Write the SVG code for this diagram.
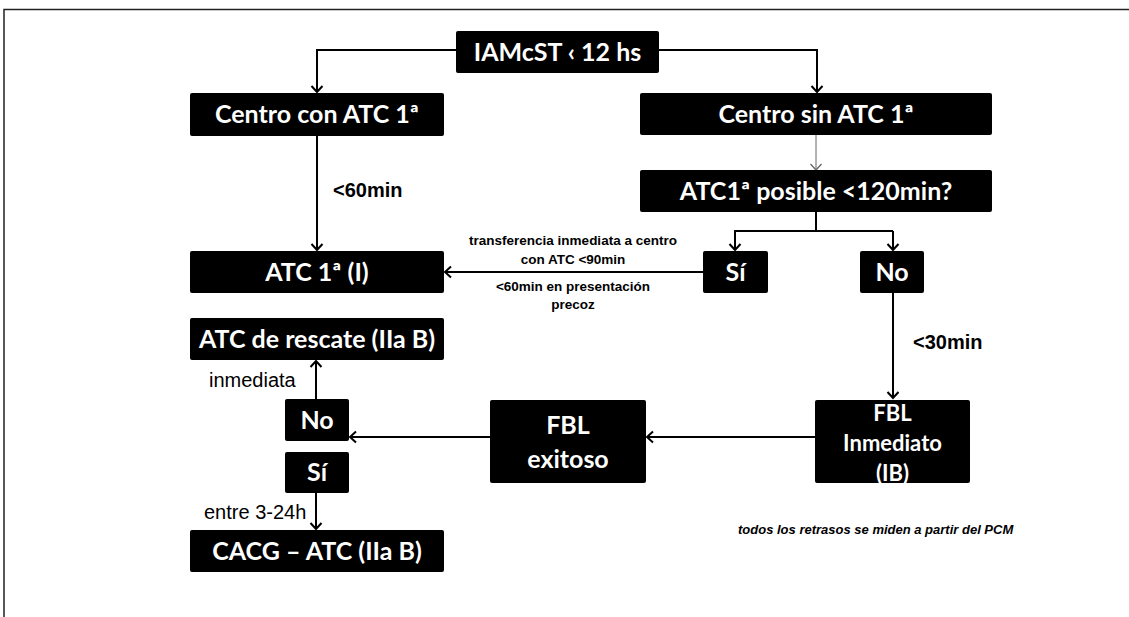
<svg xmlns="http://www.w3.org/2000/svg" width="1129" height="617" viewBox="0 0 1129 617">
<style>
.box{fill:#000;}
.t{fill:#fff;font-family:Lato,"Open Sans","Liberation Sans",sans-serif;font-weight:bold;font-size:25px;text-anchor:middle;}
.lbl{fill:#000;font-family:"Liberation Sans",Arial,sans-serif;font-weight:bold;font-size:20px;}
.reg{fill:#000;font-family:"Liberation Sans",Arial,sans-serif;font-size:20px;}
.sm{fill:#000;font-family:"Liberation Sans",Arial,sans-serif;font-weight:bold;font-size:13.5px;text-anchor:middle;}
.note{fill:#000;font-family:"Liberation Sans",Arial,sans-serif;font-weight:bold;font-style:italic;font-size:13px;}
.c{fill:none;stroke:#000;stroke-width:2;}
.cg{fill:none;stroke:#666;stroke-width:1;}
</style>
<defs>
<marker id="ah" markerUnits="userSpaceOnUse" markerWidth="14" markerHeight="14" viewBox="-8 -7 10 14" refX="0" refY="0" orient="auto">
<path d="M-6,-5.5 L0,0 L-6,5.5" fill="none" stroke="#000" stroke-width="2"/>
</marker>
<marker id="ahg" markerUnits="userSpaceOnUse" markerWidth="14" markerHeight="14" viewBox="-8 -7 10 14" refX="0" refY="0" orient="auto">
<path d="M-6,-5.5 L0,0 L-6,5.5" fill="none" stroke="#666" stroke-width="1.3"/>
</marker>
</defs>
<rect width="1129" height="617" fill="#fff"/>
<path d="M4,617 L4,9.5 L1129,9.5" fill="none" stroke="#222" stroke-width="1.5"/>

<g id="connectors">
<path class="c" d="M456,50 L317,50 L317,92" marker-end="url(#ah)"/>
<path class="c" d="M659,50 L817,50 L817,92" marker-end="url(#ah)"/>
<path class="c" d="M317,136 L317,250" marker-end="url(#ah)"/>
<path class="cg" d="M816,135 L816,170" marker-end="url(#ahg)"/>
<path class="c" d="M816,212 L816,231 M734,231 L893,231"/>
<path class="c" d="M735,231 L735,250" marker-end="url(#ah)"/>
<path class="c" d="M893,231 L893,250" marker-end="url(#ah)"/>
<path class="c" d="M703,272 L445,272" marker-end="url(#ah)"/>
<path class="c" d="M893,293 L893,398" marker-end="url(#ah)"/>
<path class="c" d="M815,437 L647,437" marker-end="url(#ah)"/>
<path class="c" d="M490,437 L350,437" marker-end="url(#ah)"/>
<path class="c" d="M316,399 L316,361" marker-end="url(#ah)"/>
<path class="c" d="M316,493 L316,529" marker-end="url(#ah)"/>
</g>

<g id="n-iamcst"><rect class="box" x="456" y="31" width="203" height="42" rx="2"/><text class="t" x="557.5" y="61">IAMcST ‹ 12 hs</text></g>
<g id="n-centro-con"><rect class="box" x="190" y="93" width="254" height="43" rx="2"/><text class="t" x="317" y="123">Centro con ATC 1ª</text></g>
<g id="n-centro-sin"><rect class="box" x="640" y="93" width="352" height="42" rx="2"/><text class="t" x="816" y="123">Centro sin ATC 1ª</text></g>
<g id="n-posible"><rect class="box" x="640" y="170" width="352" height="42" rx="2"/><text class="t" x="816" y="200">ATC1ª posible &lt;120min?</text></g>
<g id="n-si-top"><rect class="box" x="703" y="251" width="65" height="42" rx="2"/><text class="t" x="735.5" y="281">Sí</text></g>
<g id="n-no-top"><rect class="box" x="860" y="251" width="64" height="42" rx="2"/><text class="t" x="892" y="281">No</text></g>
<g id="n-atc1"><rect class="box" x="190" y="251" width="254" height="42" rx="2"/><text class="t" x="317" y="281">ATC 1ª (I)</text></g>
<g id="n-rescate"><rect class="box" x="190" y="318" width="254" height="42" rx="2"/><text class="t" x="317" y="348">ATC de rescate (IIa B)</text></g>
<g id="n-no-left"><rect class="box" x="285" y="399" width="64" height="42" rx="2"/><text class="t" x="317" y="429">No</text></g>
<g id="n-si-left"><rect class="box" x="285" y="452" width="64" height="41" rx="2"/><text class="t" x="317" y="481">Sí</text></g>
<g id="n-cacg"><rect class="box" x="190" y="530" width="254" height="42" rx="2"/><text class="t" x="317" y="560">CACG – ATC (IIa B)</text></g>
<g id="n-fbl-exitoso"><rect class="box" x="490" y="400" width="156" height="83" rx="2"/><text class="t" x="568" y="434">FBL</text><text class="t" x="568" y="468">exitoso</text></g>
<g id="n-fbl-inmediato"><rect class="box" x="815" y="400" width="155" height="83" rx="2"/><text class="t" x="892.5" y="421" style="font-size:22px">FBL</text><text class="t" x="892.5" y="451" style="font-size:22px">Inmediato</text><text class="t" x="892.5" y="481" style="font-size:22px">(IB)</text></g>

<g id="labels">
<text class="lbl" x="333" y="197">&lt;60min</text>
<text class="lbl" x="913" y="349">&lt;30min</text>
<text class="sm" x="573" y="245">transferencia inmediata a centro</text>
<text class="sm" x="573" y="264">con ATC &lt;90min</text>
<text class="sm" x="573" y="291">&lt;60min en presentación</text>
<text class="sm" x="573" y="309">precoz</text>
<text class="reg" x="209" y="387">inmediata</text>
<text class="reg" x="204" y="519">entre 3-24h</text>
<text class="note" x="738" y="534">todos los retrasos se miden a partir del PCM</text>
</g>
</svg>
